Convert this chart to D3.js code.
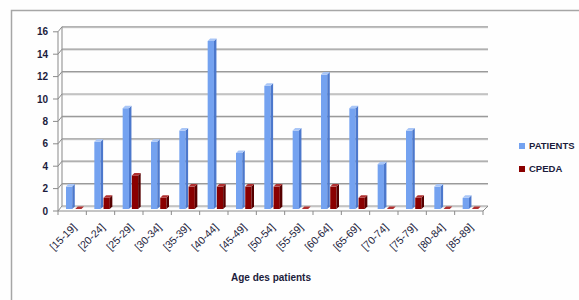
<!DOCTYPE html>
<html>
<head>
<meta charset="utf-8">
<script src="https://cdn.jsdelivr.net/npm/d3@7"></script>
<style>
  body { margin: 0; background: #fff; }
  svg { display: block; }
</style>
</head>
<body>
<div id="app"></div>
<script>
// data
const categories = ['[15-19]', '[20-24]', '[25-29]', '[30-34]', '[35-39]', '[40-44]', '[45-49]',
  '[50-54]', '[55-59]', '[60-64]', '[65-69]', '[70-74]', '[75-79]', '[80-84]', '[85-89]'];
const patients = [2, 6, 9, 6, 7, 15, 5, 11, 7, 12, 9, 4, 7, 2, 1];
const cpeda = [0, 1, 3, 1, 2, 2, 2, 2, 0, 2, 1, 0, 1, 0, 0];
const yTicks = [0, 2, 4, 6, 8, 10, 12, 14, 16];
const seriesNames = ['PATIENTS', 'CPEDA'];

const W = 579, H = 300;
const textColor = '#1c1c3c';
const colors = {
  PATIENTS: { front: '#74a2f0', side: '#4c78cc', top: '#a9c6f7' },
  CPEDA: { front: '#8a0000', side: '#560000', top: '#b03030' },
};

const svg = d3.select('#app').append('svg')
  .attr('width', W).attr('height', H)
  .style('font-family', 'Liberation Sans, Arial, sans-serif');

svg.append('rect').attr('width', W).attr('height', H).attr('fill', '#fefefe');

// chart frame
svg.append('rect')
  .attr('x', 11.5).attr('y', 10.5).attr('width', 600).attr('height', 320)
  .attr('fill', 'none').attr('stroke', '#a6a6a6').attr('stroke-width', 1.5);

const x = d3.scaleBand().domain(categories).range([58, 483]);
const inner = d3.scaleBand().domain(seriesNames).range([8, 26]).paddingInner(0.05);
const y = d3.scaleLinear().domain([0, 16]).range([209, 29.8]);

const depth = 2.5; // bar 3D depth

// back wall grid lines
const grid = svg.append('g');
yTicks.forEach((t) => {
  const yy = y(t) - 3;
  grid.append('line')
    .attr('x1', 62).attr('x2', 488).attr('y1', yy + 1).attr('y2', yy + 1)
    .attr('stroke', '#dadada').attr('stroke-width', 1);
  grid.append('line')
    .attr('x1', 62).attr('x2', 488).attr('y1', yy).attr('y2', yy)
    .attr('stroke', '#9a9a9a').attr('stroke-width', 1.2);
});
// left wall edge
grid.append('line')
  .attr('x1', 62).attr('x2', 62).attr('y1', y(16) - 3).attr('y2', y(0) - 3)
  .attr('stroke', '#9a9a9a').attr('stroke-width', 1.2);

// front y axis
const yAxis = svg.append('g');
yAxis.append('line')
  .attr('x1', 58).attr('x2', 58).attr('y1', y(16) + 2).attr('y2', y(0) + 2)
  .attr('stroke', '#8a8a8a').attr('stroke-width', 1);
yTicks.forEach((t) => {
  const yy = y(t) + 2;
  yAxis.append('path')
    .attr('d', `M53,${yy}H58L62,${y(t) - 3}`)
    .attr('fill', 'none').attr('stroke', '#8a8a8a').attr('stroke-width', 1);
  yAxis.append('text')
    .attr('x', 48).attr('y', yy).attr('dy', '0.35em')
    .attr('text-anchor', 'end')
    .attr('font-size', 10).attr('font-weight', 'bold')
    .attr('fill', textColor)
    .text(t);
});

// floor
const floorY = y(0) + 2;
svg.append('path')
  .attr('d', `M58,${floorY}H483L488,${y(0) - 3}`)
  .attr('fill', 'none').attr('stroke', '#8a8a8a').attr('stroke-width', 1);
svg.append('g').selectAll('line')
  .data(categories.concat(['end']))
  .join('line')
  .attr('x1', (d, i) => 58 + i * x.step()).attr('x2', (d, i) => 58 + i * x.step())
  .attr('y1', floorY).attr('y2', floorY + 4)
  .attr('stroke', '#8a8a8a');

// bars
const rows = categories.map((c, i) => ({ c, PATIENTS: patients[i], CPEDA: cpeda[i] }));
const barW = inner.bandwidth() - depth;
seriesNames.forEach((s) => {
  const g = svg.append('g');
  const bars = g.selectAll('g').data(rows).join('g')
    .attr('transform', (d) => `translate(${x(d.c) + inner(s)},0)`);
  // front face
  bars.append('rect')
    .attr('x', 0).attr('y', (d) => y(d[s]))
    .attr('width', barW).attr('height', (d) => y(0) - y(d[s]))
    .attr('fill', colors[s].front);
  // side face
  bars.append('path')
    .attr('d', (d) => `M${barW},${y(d[s])}L${barW + depth},${y(d[s]) - depth}V${y(0) - depth}L${barW},${y(0)}Z`)
    .attr('fill', colors[s].side);
  // top face
  bars.append('path')
    .attr('d', (d) => `M0,${y(d[s])}L${depth},${y(d[s]) - depth}H${barW + depth}L${barW},${y(d[s])}Z`)
    .attr('fill', colors[s].top);
});

// x labels
svg.append('g').selectAll('text')
  .data(categories)
  .join('text')
  .attr('transform', (d) => `translate(${x(d) + x.bandwidth() / 2 + 5},${floorY + 17}) rotate(-45)`)
  .attr('text-anchor', 'end')
  .attr('font-size', 10.5)
  .attr('fill', textColor)
  .text((d) => d);

// axis title
svg.append('text')
  .attr('x', 271).attr('y', 281)
  .attr('text-anchor', 'middle')
  .attr('font-size', 10).attr('font-weight', 'bold')
  .attr('fill', textColor)
  .text('Age des patients');

// legend
const legend = svg.append('g').selectAll('g')
  .data(seriesNames)
  .join('g')
  .attr('transform', (d, i) => `translate(519,${143 + i * 23})`);
legend.append('rect')
  .attr('width', 6).attr('height', 6)
  .attr('fill', (d) => colors[d].front);
legend.append('text')
  .attr('x', 10).attr('y', 3).attr('dy', '0.35em')
  .attr('font-size', 9.5).attr('font-weight', 'bold')
  .attr('fill', textColor)
  .text((d) => d);
</script>
</body>
</html>
